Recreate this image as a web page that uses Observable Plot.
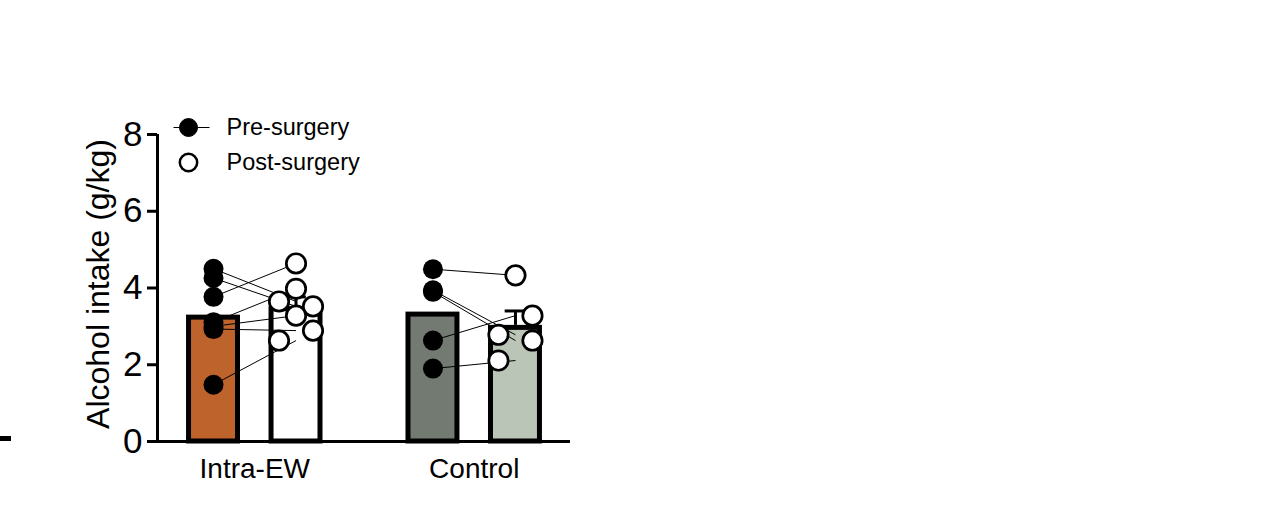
<!DOCTYPE html>
<html><head><meta charset="utf-8">
<script src="https://cdn.jsdelivr.net/npm/d3@7"></script>
<script src="https://cdn.jsdelivr.net/npm/@observablehq/plot@0.6"></script>
<style>
body{margin:0;background:#fff;}
#wrap{position:relative;width:1270px;height:515px;overflow:hidden;}
#dash{position:absolute;left:0;top:436px;width:11px;height:5px;background:#000;}
</style></head><body><div id="wrap"><div id="chart"></div><div id="dash"></div></div>
<script>
// ---- data ----
const groups = ["Intra-EW", "Control"];
const legendLabels = ["Pre-surgery", "Post-surgery"];
const yTicks = [0, 2, 4, 6, 8];
const yLabel = "Alcohol intake (g/kg)";
// paired values (pre[i] -> post[i])
const intraEWPre  = [4.50, 4.26, 3.77, 3.11, 3.00, 2.93, 1.48];
const intraEWPost = [3.65, 3.52, 4.64, 3.98, 3.28, 2.89, 2.63];
const intraEWPostSpread = [-1, 1, 0, 0, 0, 1, -1];
const controlPre  = [4.49, 3.94, 3.90, 2.63, 1.90];
const controlPost = [4.33, 2.78, 2.63, 3.28, 2.11];
const controlPostSpread = [0, -1, 1, 1, -1];

// ---- styling / layout constants ----
const barFill = {"Intra-EW": ["#BF632C", "#FFFFFF"], "Control": ["#737A71", "#BAC5B8"]};
const groupGap = 2.66;      // distance between group pre-bars, in pre->post units
const barHalf = 0.327;      // half bar width (outer), units
const spreadStep = 0.206;   // horizontal spread of overlapping post dots
const capHalf = 0.125;
const xMin = -0.679, xMax = 4.327;

const pos = (gi, ci) => gi * groupGap + ci;
const sets = [
  {group: "Intra-EW", pre: intraEWPre, post: intraEWPost, spread: intraEWPostSpread},
  {group: "Control", pre: controlPre, post: controlPost, spread: controlPostSpread}
];

const bars = [], links = [], preDots = [], postDots = [];
sets.forEach((s, gi) => {
  [s.pre, s.post].forEach((vals, ci) => {
    const m = d3.mean(vals);
    const sem = d3.deviation(vals) / Math.sqrt(vals.length);
    bars.push({group: s.group, ci, x: pos(gi, ci), mean: m, sem, fill: barFill[s.group][ci]});
  });
  s.pre.forEach((v, i) => {
    preDots.push({x: pos(gi, 0), y: v});
    postDots.push({x: pos(gi, 1) + s.spread[i] * spreadStep, y: s.post[i]});
    links.push({x1: pos(gi, 0), y1: v, x2: pos(gi, 1), y2: s.post[i]});
  });
});
const errBars = bars.filter(d => d.ci === 1); // only post-surgery error bars show in the reference
const groupCenters = groups.map((g, gi) => pos(gi, 0.5));

const preLegendSymbol = {
  draw(ctx, size) {
    const r = Math.sqrt(size / Math.PI);
    ctx.moveTo(r, 0);
    ctx.arc(0, 0, r, 0, 2 * Math.PI);
    ctx.moveTo(-15, 0); ctx.lineTo(-r, 0);
    ctx.moveTo(r, 0); ctx.lineTo(21, 0);
  }
};

const chart = Plot.plot({
  width: 1270, height: 515,
  marginLeft: 157, marginRight: 700, marginTop: 134, marginBottom: 74,
  style: {fontFamily: "'Liberation Sans', Arial, sans-serif", background: "white", color: "black"},
  x: {type: "linear", domain: [xMin, xMax]},
  y: {domain: [0, 8]},
  marks: [
    Plot.rectY(bars, {x1: d => d.x - barHalf, x2: d => d.x + barHalf, y1: 0, y2: "mean",
      fill: "fill", stroke: "black", strokeWidth: 5, insetTop: 2.5, insetLeft: 2.5, insetRight: 2.5}),
    Plot.ruleX(errBars, {x: "x", y1: "mean", y2: d => d.mean + d.sem, stroke: "black", strokeWidth: 3}),
    Plot.ruleY(errBars, {y: d => d.mean + d.sem, x1: d => d.x - capHalf, x2: d => d.x + capHalf, stroke: "black", strokeWidth: 3}),
    Plot.link(links, {x1: "x1", y1: "y1", x2: "x2", y2: "y2", stroke: "black", strokeWidth: 1}),
    Plot.dot(preDots, {x: "x", y: "y", r: 10, fill: "black", stroke: "none"}),
    Plot.dot(postDots, {x: "x", y: "y", r: 9.7, fill: "white", stroke: "black", strokeWidth: 2.7}),
    Plot.ruleY([0], {stroke: "black", strokeWidth: 3}),
    Plot.ruleX([xMin], {stroke: "black", strokeWidth: 3}),
    Plot.axisY({ticks: yTicks, tickSize: 10, tickPadding: 5, fontSize: 35, strokeWidth: 3, label: null}),
    Plot.axisX({ticks: groupCenters, tickFormat: d => groups[groupCenters.indexOf(d)], tickSize: 0, tickPadding: 17, fontSize: 28, label: null}),
    Plot.text([yLabel], {frameAnchor: "left", rotate: -90, textAnchor: "middle", lineAnchor: "middle", dx: -59, dy: -4, fontSize: 32}),
    // legend
    Plot.dot([legendLabels[0]], {frameAnchor: "top-left", dx: 31, dy: -7, r: 9, symbol: preLegendSymbol, fill: "black", stroke: "black", strokeWidth: 1}),
    Plot.dot([legendLabels[1]], {frameAnchor: "top-left", dx: 31, dy: 28, r: 8.7, fill: "white", stroke: "black", strokeWidth: 2.5}),
    Plot.text([legendLabels[0]], {frameAnchor: "top-left", dx: 69, dy: -7, textAnchor: "start", lineAnchor: "middle", fontSize: 23.5}),
    Plot.text([legendLabels[1]], {frameAnchor: "top-left", dx: 69, dy: 28, textAnchor: "start", lineAnchor: "middle", fontSize: 23.5})
  ]
});
document.getElementById("chart").appendChild(chart);
</script></body></html>
